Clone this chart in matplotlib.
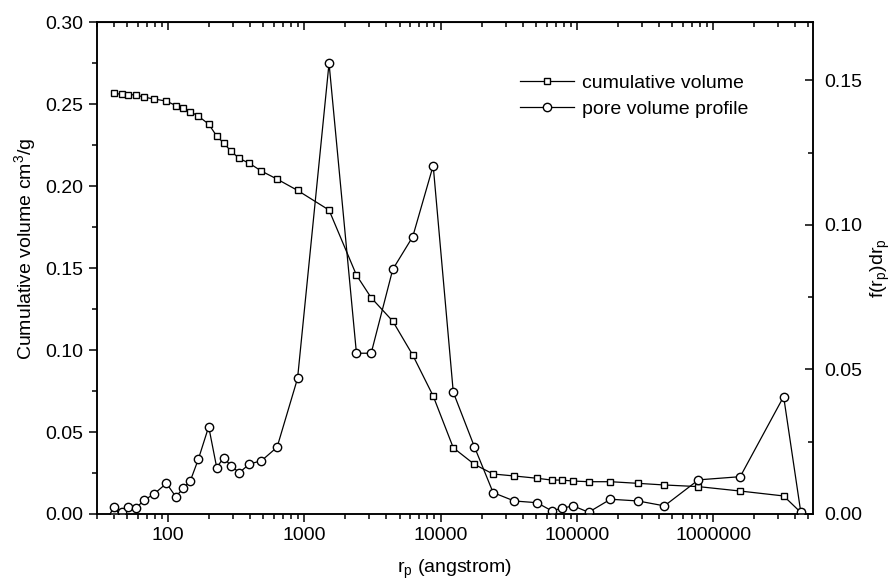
import matplotlib
matplotlib.use("Agg")
import matplotlib.pyplot as plt
from matplotlib.ticker import MultipleLocator, FormatStrFormatter, FuncFormatter

plt.rcParams['font.family'] = ['Liberation Sans', 'DejaVu Sans']
plt.rcParams['mathtext.default'] = 'regular'
plt.rcParams['font.size'] = 14

# pore radius (angstrom)
rp = [40, 46, 51, 58, 67, 79, 97.5, 114, 130, 146,
      167, 199, 228, 256, 291, 334, 396, 485, 632, 893,
      1520, 2415, 3097, 4460, 6250, 8830, 12400, 17700, 24300, 34700,
      51000, 65400, 77900, 94000, 122000, 176500, 281000, 439000, 780000, 1.58e6,
      3.29e6, 4.39e6]

# cumulative volume cm3/g
cum_volume = [0.2567, 0.2562, 0.2560, 0.2558, 0.2544, 0.2533, 0.2520, 0.2493, 0.2477, 0.2456,
              0.2428, 0.2380, 0.2306, 0.2265, 0.2213, 0.2170, 0.2140, 0.2093, 0.2044, 0.1975,
              0.1855, 0.1458, 0.1320, 0.1177, 0.0970, 0.0720, 0.0404, 0.0303, 0.0244, 0.0232,
              0.0218, 0.0207, 0.0207, 0.0201, 0.0197, 0.0197, 0.0187, 0.0177, 0.0167, 0.0140,
              0.0110, 0.0010]

# pore volume profile f(rp)drp, has one extra point at the start
profile_rp = [40.0] + rp
profile = [0.0, 0.0025, 0.0008, 0.0025, 0.0020, 0.0048, 0.0069, 0.0106, 0.0060, 0.0089, 0.0115,
           0.0189, 0.0302, 0.0160, 0.0195, 0.0166, 0.0143, 0.0173, 0.0184, 0.0231, 0.0469,
           0.1559, 0.0556, 0.0556, 0.0846, 0.0959, 0.1205, 0.0421, 0.0233, 0.0074, 0.0045,
           0.0039, 0.0011, 0.0020, 0.0028, 0.0006, 0.0051, 0.0045, 0.0028, 0.0118, 0.0129,
           0.0406, 0.0008]

fig = plt.figure(figsize=(8.92, 5.84), dpi=100)
ax = fig.add_axes([0.1084, 0.1199, 0.803, 0.8416])
ax2 = ax.twinx()

l1, = ax.plot(rp, cum_volume, color='black', lw=0.9, marker='s', ms=5,
              mfc='white', mec='black', mew=1.0, label='cumulative volume')
l2, = ax2.plot(profile_rp, profile, color='black', lw=0.9, marker='o', ms=6,
               mfc='white', mec='black', mew=1.0, label='pore volume profile')

ax.set_xscale('log')
ax.set_xlim(30, 5.4e6)
ax.set_ylim(0, 0.30)
ax2.set_ylim(0, 0.17)

ax.xaxis.set_major_formatter(FuncFormatter(lambda v, p: '%d' % round(v)))
ax.yaxis.set_major_locator(MultipleLocator(0.05))
ax.yaxis.set_minor_locator(MultipleLocator(0.025))
ax.yaxis.set_major_formatter(FormatStrFormatter('%.2f'))
ax2.yaxis.set_major_locator(MultipleLocator(0.05))
ax2.yaxis.set_minor_locator(MultipleLocator(0.025))
ax2.yaxis.set_major_formatter(FormatStrFormatter('%.2f'))

for a in (ax, ax2):
    for s in a.spines.values():
        s.set_linewidth(1.1)

ax.tick_params(which='major', direction='out', length=6, width=1.1, labelsize=14)
ax.tick_params(which='minor', direction='out', length=3.5, width=1.1)
ax2.tick_params(which='major', direction='in', length=6, width=1.1, labelsize=14, pad=8)
ax2.tick_params(which='minor', direction='in', length=3.5, width=1.1)

top = ax.secondary_xaxis('top')
top.tick_params(which='major', direction='in', length=6, width=1.1, labeltop=False)
top.tick_params(which='minor', direction='in', length=3.5, width=1.1)

ax.set_xlabel('r$_p$ (angstrom)', fontsize=14, labelpad=10)
ax.set_ylabel('Cumulative volume cm$^3$/g', fontsize=14, labelpad=5)
ax.yaxis.set_label_coords(-0.082, 0.54)
ax2.set_ylabel('f(r$_p$)dr$_p$', fontsize=14, labelpad=5)

ax2.legend([l1, l2], ['cumulative volume', 'pore volume profile'],
           loc='upper left', bbox_to_anchor=(0.591, 0.895), frameon=False,
           borderpad=0, borderaxespad=0, handlelength=2.8, handletextpad=0.4,
           labelspacing=0.45, fontsize=14)

fig.savefig('out.png', dpi=100)
